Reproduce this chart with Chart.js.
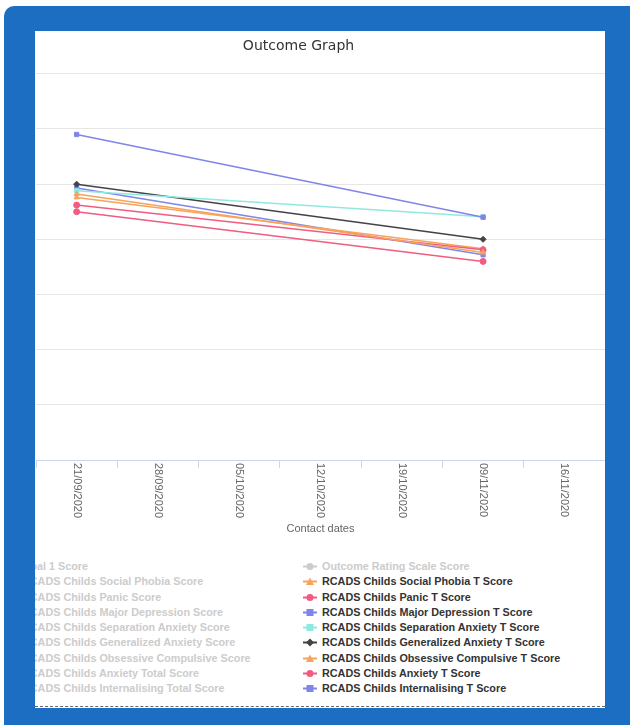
<!DOCTYPE html>
<html>
<head>
<meta charset="utf-8">
<script src="https://cdn.jsdelivr.net/npm/chart.js@4.4.1/dist/chart.umd.min.js"></script>
<style>
  html, body { margin: 0; padding: 0; overflow: hidden; background: #fff; width: 630px; height: 725px; }
  #frame { position: absolute; left: 4px; top: 6px; width: 660px; height: 760px; background: #1b6ec2; border-top-left-radius: 10px; }
  #panel { position: absolute; left: 35px; top: 31px; width: 570px; height: 677px; background: #fff; overflow: hidden; }
  #chartBox { position: absolute; left: -48px; top: 0; }
  #legend { position: absolute; left: 0; top: 528px; width: 570px; font: bold 10.8px "Liberation Sans", Arial, sans-serif; }
  .item { position: absolute; height: 15px; line-height: 15px; white-space: nowrap; }
  .item svg { position: absolute; left: 0; top: 2px; }
  .item span { position: absolute; left: 19px; top: 0; }
  #dash { position: absolute; left: 0; top: 675px; width: 570px; border-top: 1px dashed #666; }
</style>
</head>
<body>
<div id="frame"></div>
<div id="panel">
  <div id="chartBox"><canvas id="chart" width="623" height="515"></canvas></div>
  <div id="legend"></div>
  <div id="dash"></div>
</div>
<script>
// x categories
const contactDates = ["21/09/2020", "28/09/2020", "05/10/2020", "12/10/2020", "19/10/2020", "09/11/2020", "16/11/2020"];

// y axis range (labels sit off the visible panel)
const yMin = 0, yMax = 70, yStep = 10;

// visible T score series (first and last contact only)
const socialPhobiaT   = [48.2, null, null, null, null, 37.6, null];
const panicT          = [46.2, null, null, null, null, 38.1, null];
const majorDepressionT = [59.0, null, null, null, null, 44.0, null];
const separationT     = [48.8, null, null, null, null, 44.1, null];
const generalizedT    = [50.0, null, null, null, null, 40.0, null];
const obsessiveT      = [47.6, null, null, null, null, 38.3, null];
const anxietyT        = [45.0, null, null, null, null, 36.0, null];
const internalisingT  = [49.3, null, null, null, null, 37.2, null];

// legend rows: left column (hidden raw scores) / right column
const leftNames = [
  "Goal 1 Score",
  "RCADS Childs Social Phobia Score",
  "RCADS Childs Panic Score",
  "RCADS Childs Major Depression Score",
  "RCADS Childs Separation Anxiety Score",
  "RCADS Childs Generalized Anxiety Score",
  "RCADS Childs Obsessive Compulsive Score",
  "RCADS Childs Anxiety Total Score",
  "RCADS Childs Internalising Total Score"
];
const rightNames = [
  "Outcome Rating Scale Score",
  "RCADS Childs Social Phobia T Score",
  "RCADS Childs Panic T Score",
  "RCADS Childs Major Depression T Score",
  "RCADS Childs Separation Anxiety T Score",
  "RCADS Childs Generalized Anxiety T Score",
  "RCADS Childs Obsessive Compulsive T Score",
  "RCADS Childs Anxiety T Score",
  "RCADS Childs Internalising T Score"
];

const series = [
  { data: socialPhobiaT, color: "#f7a35c", style: "triangle" },
  { data: panicT, color: "#f15c80", style: "circle" },
  { data: majorDepressionT, color: "#8085e9", style: "rect" },
  { data: separationT, color: "#91e8e1", style: "rect" },
  { data: generalizedT, color: "#434348", style: "rectRot" },
  { data: obsessiveT, color: "#f7a35c", style: "triangle" },
  { data: anxietyT, color: "#f15c80", style: "circle" },
  { data: internalisingT, color: "#8085e9", style: "rect" }
];

// rotated date labels, reading top to bottom
const dateLabels = {
  id: "dateLabels",
  afterDraw(chart) {
    const x = chart.scales.x;
    const ctx = chart.ctx;
    ctx.save();
    ctx.font = '11px "Liberation Sans", Arial, sans-serif';
    ctx.fillStyle = "#666666";
    ctx.textAlign = "left";
    ctx.textBaseline = "middle";
    contactDates.forEach((d, i) => {
      ctx.save();
      ctx.translate(x.getPixelForValue(i), x.top + 3);
      ctx.rotate(Math.PI / 2);
      ctx.fillText(d, 0, 0);
      ctx.restore();
    });
    ctx.restore();
  }
};

new Chart(document.getElementById("chart"), {
  type: "line",
  data: {
    labels: contactDates,
    datasets: series.map((s, i) => ({
      label: rightNames[i + 1],
      data: s.data,
      borderColor: s.color,
      backgroundColor: s.color,
      pointStyle: s.style,
      spanGaps: true,
    })),
  },
  options: {
    responsive: false,
    animation: false,
    layout: { padding: 0 },
    elements: {
      line: { borderWidth: 1.5, tension: 0 },
      point: { radius: 3, borderWidth: 1 },
    },
    scales: {
      x: {
        type: "category",
        offset: true,
        grid: { offset: true, drawOnChartArea: false, drawTicks: true, tickLength: 8, color: "#ccd6eb" },
        border: { color: "#ccd6eb" },
        ticks: { display: false },
        title: {
          display: true,
          text: "Contact dates",
          color: "#666666",
          font: { family: '"Liberation Sans", Arial, sans-serif', size: 11 },
          padding: { top: 0, bottom: 10 },
        },
        afterFit: (s) => { s.height = 86; },
      },
      y: {
        min: yMin,
        max: yMax,
        ticks: { display: false, stepSize: yStep },
        grid: { color: "#e6e6e6", drawTicks: false },
        border: { display: false },
        afterFit: (s) => { s.width = 49; },
      },
    },
    plugins: {
      legend: { display: false },
      tooltip: { enabled: false },
      title: {
        display: true,
        text: "Outcome Graph",
        color: "#333333",
        font: { family: '"DejaVu Sans", sans-serif', size: 14, weight: "normal" },
        padding: { top: 7, bottom: 19 },
      },
    },
  },
  plugins: [dateLabels],
});

// html legend in two columns
function marker(color, style) {
  let sym = '<circle cx="7" cy="5.5" r="3.5" fill="' + color + '"/>';
  if (style === "rect") sym = '<rect x="3.5" y="2" width="7" height="7" fill="' + color + '"/>';
  if (style === "rectRot") sym = '<path d="M7 1.5 L11 5.5 L7 9.5 L3 5.5 Z" fill="' + color + '"/>';
  if (style === "triangle") sym = '<path d="M7 1.5 L11 9 L3 9 Z" fill="' + color + '"/>';
  return '<svg width="14" height="11"><line x1="0" y1="5.5" x2="14" y2="5.5" stroke="' + color + '" stroke-width="2"/>' + sym + '</svg>';
}

const legend = document.getElementById("legend");
const rowH = 15.25;
leftNames.forEach((name, r) => {
  const el = document.createElement("div");
  el.className = "item";
  el.style.left = "-32px";
  el.style.top = (r * rowH) + "px";
  el.innerHTML = marker("#cccccc", "circle") + '<span style="color:#cccccc">' + name + '</span>';
  legend.appendChild(el);
});
rightNames.forEach((name, r) => {
  const s = r === 0 ? null : series[r - 1];
  const el = document.createElement("div");
  el.className = "item";
  el.style.left = "268px";
  el.style.top = (r * rowH) + "px";
  const col = s ? s.color : "#cccccc";
  el.innerHTML = marker(col, s ? s.style : "circle") + '<span style="color:' + (s ? "#333333" : "#cccccc") + '">' + name + '</span>';
  legend.appendChild(el);
});
</script>
</body>
</html>
